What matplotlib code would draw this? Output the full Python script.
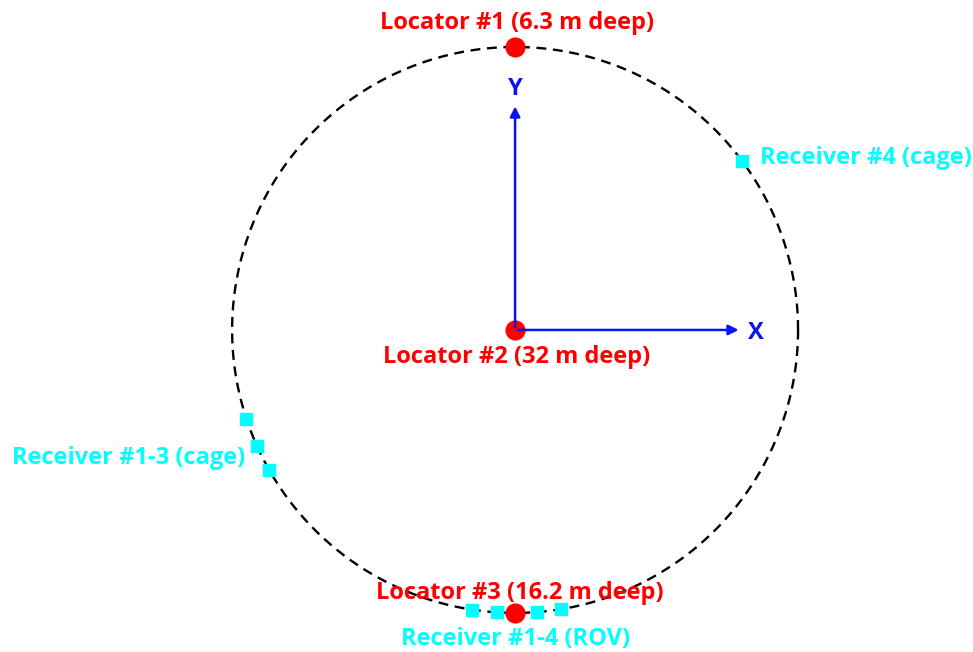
import numpy as np
import matplotlib.pyplot as plt

# positions on the circle (degrees, counter-clockwise from +X), radius = 1
locator_names = ['Locator #1 (6.3 m deep)', 'Locator #2 (32 m deep)', 'Locator #3 (16.2 m deep)']
locator_angle = [90, None, 270]          # None -> centre of circle
cage_rx_angle = [198.3, 204.1, 209.6, 36.7]   # receivers #1-3 and #4 on the cage
rov_rx_angle = [261.3, 266.4, 274.4, 279.3]   # receivers #1-4 on the ROV

red = '#ff0000'
cyan = '#00ffff'
blue = '#0a14f0'

def pos(a):
    if a is None:
        return 0.0, 0.0
    t = np.deg2rad(a)
    return np.cos(t), np.sin(t)

fig = plt.figure(figsize=(9.73, 6.52), dpi=100)
ax = fig.add_axes([0, 0, 1, 1])
ax.set_xlim(-1.820, 1.618)
ax.set_ylim(-1.138, 1.166)
ax.set_aspect('equal')
ax.axis('off')

# dashed circle
t = np.linspace(0, 2 * np.pi, 400)
ax.plot(np.cos(t), np.sin(t), color='black', lw=1.7, ls=(0, (4.2, 2.8)), zorder=1)

# axes arrows
ax.annotate('', xy=(0.8, 0), xytext=(0, 0),
            arrowprops=dict(arrowstyle='-|>', color=blue, lw=1.8, mutation_scale=15), zorder=3)
ax.annotate('', xy=(0, 0.8), xytext=(0, 0),
            arrowprops=dict(arrowstyle='-|>', color=blue, lw=1.8, mutation_scale=15), zorder=3)
ax.text(0.85, -0.01, 'X', color=blue, fontsize=17, fontweight='bold',
        ha='center', va='center', family='Open Sans')
ax.text(0, 0.853, 'Y', color=blue, fontsize=17, fontweight='bold',
        ha='center', va='center', family='Open Sans')

# receivers
for a in cage_rx_angle + rov_rx_angle:
    x, y = pos(a)
    ax.plot(x, y, marker='s', ms=8.5, color=cyan, mec=cyan, zorder=4)

# locators
for a in locator_angle:
    x, y = pos(a)
    ax.plot(x, y, marker='o', ms=13.5, color=red, zorder=2)

fs = 17
kw = dict(fontsize=fs, fontweight='bold', va='center', family='Open Sans')
ax.text(0.007, 1.083, locator_names[0], color=red, ha='center', **kw)
ax.text(0.007, -0.097, locator_names[1], color=red, ha='center', **kw)
ax.text(0.018, -0.929, locator_names[2], color=red, ha='center', **kw)
ax.text(0.0, -1.091, 'Receiver #1-4 (ROV)', color=cyan, ha='center', **kw)
ax.text(-0.955, -0.452, 'Receiver #1-3 (cage)', color=cyan, ha='right', **kw)
ax.text(0.866, 0.608, 'Receiver #4 (cage)', color=cyan, ha='left', **kw)

plt.savefig('out.png', dpi=100)
